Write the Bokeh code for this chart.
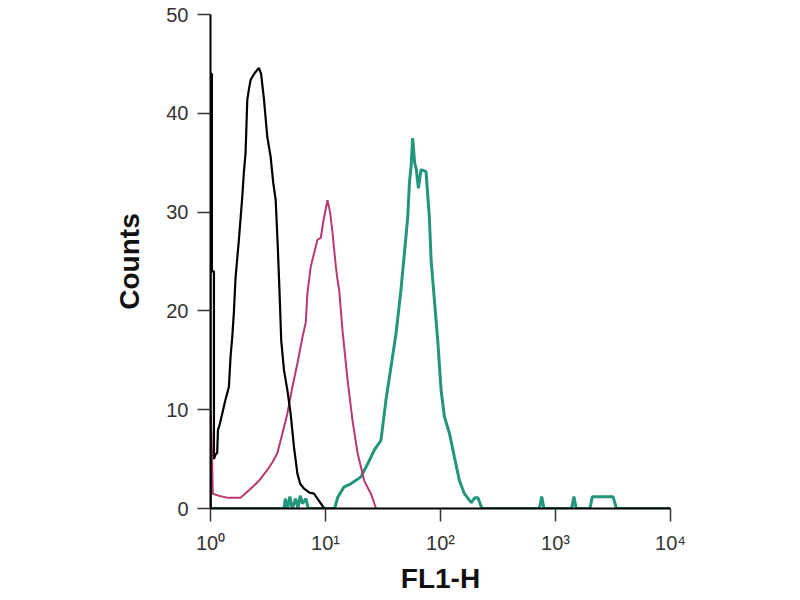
from bokeh.plotting import figure
from bokeh.models import FixedTicker, CustomJSTickFormatter
from bokeh.embed import file_html
from bokeh.resources import INLINE

# ---- data (FL1-H channel exponent -> counts) ----
black_exp = [0, 0, 0.012, 0.012, 0.03, 0.03, 0.045, 0.058, 0.065, 0.073, 0.09, 0.102, 0.13, 0.16, 0.174,
             0.19, 0.203, 0.218, 0.247, 0.276, 0.29, 0.305, 0.32, 0.335, 0.349, 0.38, 0.421, 0.44,
             0.465, 0.494, 0.523, 0.545, 0.567, 0.585, 0.6, 0.615, 0.639, 0.668, 0.697, 0.726, 0.756,
             0.78, 0.814, 0.86, 0.9, 0.93, 0.96, 0.99]
black_cnt = [0, 44, 44, 24, 24, 5, 5.5, 5.6, 8, 8.2, 9, 9.6, 11, 12.3, 15.3,
             17.5, 19.8, 23.4, 27.2, 31.5, 34, 36, 41.4, 42.5, 43.4, 44, 44.6, 44,
             41.4, 37.6, 35.6, 33, 31.2, 26.5, 22, 17, 14, 12, 9.6, 6.2, 3.5,
             2.5, 2, 1.6, 1.5, 1, 0.5, 0]

pink_exp = [0, 0, 0.012, 0.02, 0.07, 0.145, 0.262, 0.3, 0.349, 0.421, 0.494, 0.54, 0.581, 0.625,
            0.668, 0.712, 0.756, 0.799, 0.828, 0.843, 0.872, 0.9, 0.93, 0.959, 0.98, 1.017, 1.04,
            1.061, 1.09, 1.105, 1.119, 1.148, 1.192, 1.235, 1.279, 1.337, 1.395, 1.44]
pink_cnt = [0, 10, 6, 1.5, 1.3, 1.1, 1.1, 1.5, 2, 2.8, 3.9, 4.7, 5.6, 7.6,
            9.6, 12.3, 14.7, 17.3, 18.8, 21.8, 24.5, 25.8, 27.2, 27.4, 29, 31.2, 30,
            27.9, 24.5, 23.1, 22.1, 18, 13, 8.9, 5.6, 2.8, 1.5, 0]

teal_exp = [0.0, 0.64, 0.65, 0.67, 0.69, 0.71, 0.74, 0.76, 0.78, 0.8, 0.83, 0.85, 1.08, 1.105, 1.162,
            1.22, 1.308, 1.366, 1.424, 1.482, 1.526, 1.569, 1.613, 1.656, 1.686, 1.715, 1.73,
            1.744, 1.758, 1.775, 1.79, 1.808, 1.831, 1.874, 1.903, 1.918, 1.947, 1.976, 2.005,
            2.034, 2.078, 2.121, 2.165, 2.208, 2.267, 2.3, 2.325, 2.36, 2.86, 2.88, 2.9, 3.14,
            3.16, 3.18, 3.3, 3.32, 3.5, 3.53, 4.0]
teal_cnt = [0, 0, 1, 0, 1.2, 0, 1, 0, 1.3, 0.5, 1, 0, 0, 1.1, 2.2,
            2.5, 3.2, 4.5, 5.9, 6.9, 11, 14.3, 17.7, 22.1, 25.8, 29.5, 33,
            34.6, 37.5, 35, 34.3, 32.4, 34.3, 34.1, 29.5, 25.2, 21.1, 17, 12,
            9.3, 7.6, 5.2, 2.8, 1.5, 0.6, 1.1, 1.1, 0, 0, 1.2, 0, 0,
            1.2, 0, 0, 1.2, 1.2, 0, 0]

x_ticks = [1, 10, 100, 1000, 10000]
y_ticks = [0, 10, 20, 30, 40, 50]

p = figure(x_axis_type="log", x_range=(1, 10000), y_range=(0, 50),
           frame_width=460, frame_height=494,
           min_border_left=210, min_border_right=120, min_border_top=14, min_border_bottom=10,
           output_backend="svg", toolbar_location=None, background_fill_color="white")
p.outline_line_color = None
p.xgrid.visible = False
p.ygrid.visible = False

p.line([10 ** e for e in teal_exp], teal_cnt, line_color="#23957a", line_width=3)
p.line([10 ** e for e in pink_exp], pink_cnt, line_color="#b8386f", line_width=2)
p.line([10 ** e for e in black_exp], black_cnt, line_color="black", line_width=2.2)

p.xaxis.ticker = FixedTicker(ticks=x_ticks, minor_ticks=[])
p.xaxis.formatter = CustomJSTickFormatter(code="""
const sup = ['\u2070','\u00b9','\u00b2','\u00b3','\u2074'];
return '10' + sup[Math.round(Math.log10(tick))];
""")
p.yaxis.ticker = FixedTicker(ticks=y_ticks, minor_ticks=[])

for ax in (p.xaxis, p.yaxis):
    ax.axis_line_color = "black"
    ax.axis_line_width = 2
    ax.major_tick_line_color = "#333333"
    ax.major_tick_line_width = 1.5
    ax.major_tick_out = 13
    ax.major_tick_in = 0
    ax.minor_tick_out = 0
    ax.minor_tick_in = 0
    ax.major_label_text_font = "Liberation Sans"
    ax.major_label_text_font_size = "20px"
    ax.major_label_text_color = "#333333"
    ax.axis_label_text_font = "Liberation Sans"
    ax.axis_label_text_font_style = "bold"
    ax.axis_label_text_font_size = "28px"
    ax.axis_label_text_color = "#111111"
p.yaxis.major_label_standoff = 9
p.xaxis.major_label_standoff = 10

p.yaxis.axis_label = "Counts"
p.yaxis.axis_label_standoff = 18
p.xaxis.axis_label = "FL1-H"
p.xaxis.axis_label_standoff = 6

open("out.html", "w").write(file_html(p, INLINE))
